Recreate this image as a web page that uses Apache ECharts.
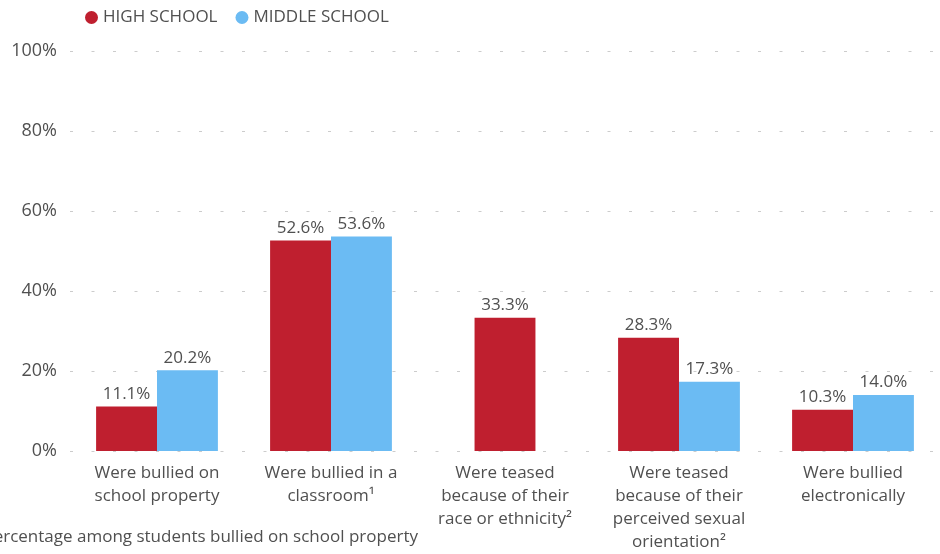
<!DOCTYPE html>
<html>
<head>
<meta charset="utf-8">
<script src="https://cdn.jsdelivr.net/npm/echarts@6/dist/echarts.min.js"></script>
<style>
  html, body { margin: 0; padding: 0; background: #fff; }
  #chart { width: 940px; height: 554px; }
</style>
</head>
<body>
<div id="chart"></div>
<script>
// Categories shown along the x axis
const categories = [
  'Were bullied on\nschool property',
  'Were bullied in a\nclassroom\u00b9',
  'Were teased\nbecause of their\nrace or ethnicity\u00b2',
  'Were teased\nbecause of their\nperceived sexual\norientation\u00b2',
  'Were bullied\nelectronically'
];
// Percentages by school level (null = not reported)
const highSchool = [11.1, 52.6, 33.3, 28.3, 10.3];
const middleSchool = [20.2, 53.6, null, 17.3, 14.0];
const yTicks = [0, 20, 40, 60, 80, 100];
const footnote = 'Percentage among students bullied on school property';

// Where only high school is reported, its bar sits centred in the category
const hsPaired = highSchool.map((v, i) => middleSchool[i] == null ? null : v);
const hsSolo = highSchool.map((v, i) => middleSchool[i] == null ? v : null);

const FONT = 'Open Sans';
const TXT = '#505050';
const RED = '#BF1F2F';
const BLUE = '#6BBBF3';

const chart = echarts.init(document.getElementById('chart'));

const valueLabel = {
  show: true,
  position: 'top',
  distance: 4,
  color: TXT,
  fontFamily: FONT,
  fontSize: 17,
  formatter: p => p.value == null ? '' : p.value.toFixed(1) + '%'
};

chart.setOption({
  animation: false,
  textStyle: { fontFamily: FONT },
  legend: {
    left: 80,
    top: 4,
    itemWidth: 13,
    itemHeight: 13,
    itemGap: 18,
    icon: 'circle',
    textStyle: { color: TXT, fontSize: 17, fontFamily: FONT },
    data: [
      { name: 'HIGH SCHOOL', itemStyle: { color: RED } },
      { name: 'MIDDLE SCHOOL', itemStyle: { color: BLUE } }
    ]
  },
  grid: { left: 70, right: -4, top: 51, bottom: 102, containLabel: false },
  xAxis: [
    {
      type: 'category',
      data: categories,
      axisLine: { show: false },
      axisTick: { show: false },
      axisLabel: {
        interval: 0,
        margin: 11,
        color: TXT,
        fontSize: 17,
        lineHeight: 23,
        fontFamily: FONT
      }
    },
    {
      type: 'category',
      data: categories,
      show: false
    }
  ],
  yAxis: {
    type: 'value',
    min: yTicks[0],
    max: yTicks[yTicks.length - 1],
    interval: yTicks[1] - yTicks[0],
    axisLine: { show: false },
    axisTick: { show: false },
    axisLabel: {
      margin: 13,
      color: TXT,
      fontSize: 18,
      fontFamily: FONT,
      formatter: v => v + '%'
    },
    splitLine: {
      lineStyle: { color: '#cccccc', width: 1, type: [3, 18.5] }
    }
  },
  series: [
    {
      name: 'HIGH SCHOOL',
      type: 'bar',
      xAxisIndex: 0,
      data: hsPaired,
      barGap: '0%',
      barCategoryGap: '30%',
      itemStyle: { color: RED },
      label: valueLabel
    },
    {
      name: 'MIDDLE SCHOOL',
      type: 'bar',
      xAxisIndex: 0,
      data: middleSchool,
      itemStyle: { color: BLUE },
      label: valueLabel
    },
    {
      name: 'HIGH SCHOOL',
      type: 'bar',
      xAxisIndex: 1,
      data: hsSolo,
      barCategoryGap: '65%',
      itemStyle: { color: RED },
      label: valueLabel
    }
  ],
  graphic: [{
    type: 'text',
    right: 522,
    top: 529,
    style: {
      text: footnote,
      fill: TXT,
      fontSize: 17,
      fontFamily: FONT
    }
  }]
});
</script>
</body>
</html>
